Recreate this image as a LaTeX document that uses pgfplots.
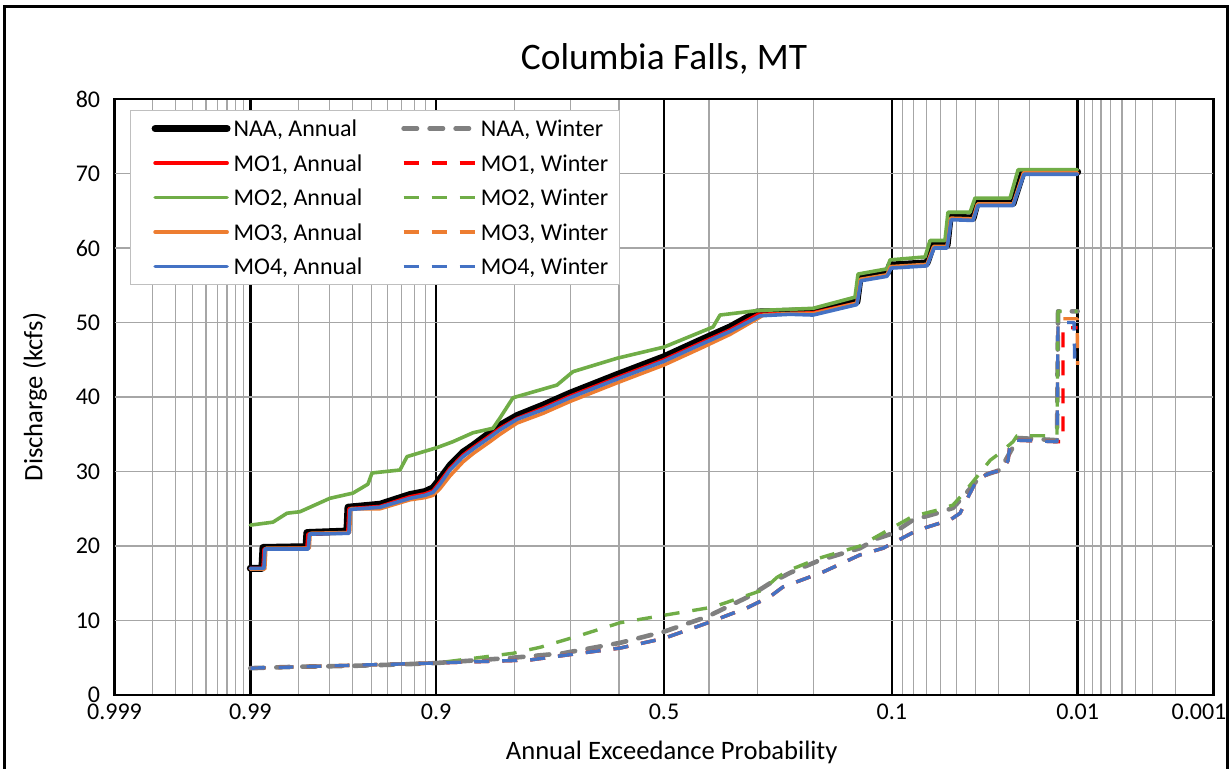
\documentclass[border=0pt]{standalone}
\usepackage{fontspec}
\setmainfont{Carlito}
\usepackage{pgfplots}
\pgfplotsset{compat=1.18}

\definecolor{xlRed}{HTML}{FF0000}
\definecolor{xlGreen}{HTML}{70AD47}
\definecolor{xlOrange}{HTML}{ED7D31}
\definecolor{xlBlue}{HTML}{4472C4}
\definecolor{xlGray}{HTML}{808080}
\definecolor{gridGray}{HTML}{A6A6A6}
\definecolor{legGray}{HTML}{BFBFBF}

% x axis is the standard normal quantile of the non-exceedance probability
\begin{document}
\begin{tikzpicture}
\useasboundingbox (0,0) rectangle (615.5pt,384.5pt);
\draw[line width=1.5pt] (2pt,-5pt) -- (2pt,381pt) -- (613.5pt,381pt) -- (613.5pt,-5pt);
\begin{axis}[
  at={(57.25pt,37pt)}, anchor=south west,
  scale only axis, width=549.5pt, height=298pt,
  xmin=-3.0902, xmax=3.0902, ymin=0, ymax=80,
  xtick={-3.0902,-2.3263,-1.2816,0,1.2816,2.3263,3.0902},
  xticklabels={0.999,0.99,0.9,0.5,0.1,0.01,\hspace*{-14.5pt}0.001},
  minor xtick={-2.8782,-2.7478,-2.6521,-2.5758,-2.5121,-2.4573,-2.4089,-2.3656,
    -2.0537,-1.8808,-1.7507,-1.6449,-1.5548,-1.4758,-1.4051,-1.3408,
    -0.8416,-0.5244,-0.2533,0.2533,0.5244,0.8416,
    1.3408,1.4051,1.4758,1.5548,1.6449,1.7507,1.8808,2.0537,
    2.3656,2.4089,2.4573,2.5121,2.5758,2.6521,2.7478,2.8782},
  ytick={0,10,20,30,40,50,60,70,80},
  grid=both,
  major x grid style={black, line width=1.3pt},
  minor x grid style={gridGray, line width=0.6pt},
  major y grid style={gridGray, line width=0.6pt},
  major tick length=0pt, minor tick length=0pt,
  axis line style={black, line width=1pt},
  tick label style={font=\fontsize{12}{14}\selectfont},
  /pgf/number format/assume math mode=true,
  xticklabel style={yshift=-4pt, inner sep=0.5pt},
  yticklabel style={xshift=-6pt, inner sep=1pt},
  title={Columbia Falls, MT},
  title style={at={(axis description cs:0.5,1.0671)}, anchor=center, yshift=-6pt,
    font=\fontsize{18.7}{22}\selectfont},
  xlabel={Annual Exceedance Probability},
  xlabel style={at={(axis description cs:0.507,-0.0956)}, anchor=center,
    font=\fontsize{13.3}{16}\selectfont},
  ylabel={Discharge (kcfs)},
  ylabel style={at={(axis description cs:-0.0723,0.5)}, anchor=center,
    font=\fontsize{13.3}{16}\selectfont},
  every axis plot/.append style={line join=round},
  annual/.style={line width=1.8pt, line cap=round},
  winter/.style={line width=1.7pt, line cap=butt, dash pattern=on 7.5pt off 6.5pt},
  legend image code/.code={\path (-6.5pt,0pt); \draw[#1] (0pt,0pt) -- (36pt,0pt);},
  legend columns=2,
  legend cell align=left,
  legend style={at={(0.0141,0.9815)}, anchor=north west, draw=legGray,
    line width=0.6pt, fill=white, font=\fontsize{12}{14}\selectfont,
    inner xsep=4pt, inner ysep=2pt,
    nodes={text height=9pt, text depth=1pt, inner ysep=2pt, inner xsep=1.5pt},
    row sep=3.25pt,
    /tikz/every even column/.append style={column sep=11.5pt}},
]

% NAA, Annual
\addplot[black, line width=3.5pt, line cap=round] coordinates {
(-2.3263,17.0) (-2.261,17.0) (-2.255,19.8) (-2.013,19.9) (-2.008,21.8)
(-1.783,22.0) (-1.777,25.2) (-1.597,25.6) (-1.429,26.9) (-1.344,27.3)
(-1.299,27.8) (-1.260,29.0) (-1.204,30.8) (-1.130,32.6) (-1.074,33.5)
(-0.979,35.2) (-0.922,36.2) (-0.827,37.5) (-0.681,38.9) (-0.529,40.5)
(-0.264,43.0) (0,45.4) (0.202,47.6) (0.371,49.4) (0.523,51.4) (0.709,51.5)
(0.838,51.6) (1.085,52.8) (1.102,56.0) (1.254,56.6) (1.271,57.7) (1.479,58.0)
(1.513,60.4) (1.592,60.4) (1.609,64.2) (1.738,64.0) (1.760,66.0) (1.963,66.0)
(2.019,70.2) (2.3263,70.2)};
\addlegendentry{NAA, Annual}

% NAA, Winter
\addplot[xlGray, line width=2.3pt, line cap=round, dash pattern=on 6.7pt off 6.3pt] coordinates {
(-2.3263,3.6) (-2.047,3.8) (-1.766,3.9) (-1.485,4.1) (-1.277,4.3) (-0.849,5.0)
(-0.568,5.6) (-0.247,7.0) (0,8.5) (0.242,10.5) (0.484,13.3) (0.596,15.0)
(0.709,16.4) (0.877,18.1) (1.102,19.7) (1.198,21.0) (1.288,21.7) (1.400,23.5)
(1.535,24.4) (1.625,25.1) (1.682,26.6) (1.777,29.3) (1.890,30.2) (1.963,33.3)
(1.985,34.5) (2.210,34.2) (2.216,51.5) (2.3263,51.5)};
\addlegendentry{NAA, Winter}

% MO1, Annual
\addplot[xlRed, annual] coordinates {
(-2.3263,17.0) (-2.255,17.0) (-2.249,19.6) (-2.008,19.7) (-2.002,21.6)
(-1.778,21.8) (-1.772,25.0) (-1.597,25.3) (-1.429,26.6) (-1.344,27.0)
(-1.299,27.4) (-1.260,28.6) (-1.204,30.4) (-1.130,32.2) (-1.074,33.2)
(-0.979,34.8) (-0.922,35.8) (-0.827,37.1) (-0.681,38.5) (-0.529,40.1)
(-0.264,42.6) (0,45.0) (0.202,47.2) (0.371,49.0) (0.530,51.1) (0.709,51.2)
(0.838,51.3) (1.085,52.6) (1.105,55.7) (1.254,56.3) (1.274,57.4) (1.479,57.7)
(1.516,60.1) (1.592,60.1) (1.612,63.9) (1.738,63.8) (1.763,65.8) (1.963,65.8)
(2.022,70.0) (2.3263,70.0)};
\addlegendentry{MO1, Annual}

% MO1, Winter
\addplot[xlRed, winter] coordinates {
(-2.3263,3.6) (-1.277,4.3) (-0.754,4.7) (-0.472,5.6) (-0.247,6.3) (0,7.6)
(0.259,9.8) (0.467,11.7) (0.596,13.2) (0.669,14.5) (0.894,16.5) (1.102,18.8)
(1.232,19.7) (1.288,20.4) (1.423,22.1) (1.609,23.5) (1.665,24.4) (1.721,27.1)
(1.760,28.9) (1.834,29.8) (1.907,30.2) (1.935,31.5) (1.946,33.8) (1.985,34.2)
(2.210,34.0) (2.244,34.0) (2.244,49.3) (2.3263,49.3)};
\addlegendentry{MO1, Winter}

% MO2, Annual
\addplot[xlGreen, annual] coordinates {
(-2.3263,22.8) (-2.199,23.2) (-2.120,24.4) (-2.047,24.6) (-1.879,26.4)
(-1.749,27.1) (-1.665,28.3) (-1.642,29.8) (-1.485,30.2) (-1.445,32.0)
(-1.277,33.2) (-1.187,34.0) (-1.074,35.2) (-0.962,35.8) (-0.922,37.2)
(-0.849,39.9) (-0.602,41.6) (-0.512,43.4) (-0.264,45.2) (0,46.7) (0.276,49.4)
(0.315,51.0) (0.523,51.6) (0.838,51.9) (1.074,53.4) (1.091,56.5) (1.254,57.2)
(1.271,58.4) (1.468,58.8) (1.496,61.0) (1.580,61.0) (1.597,64.8) (1.721,64.8)
(1.749,66.7) (1.946,66.7) (1.991,70.5) (2.3263,70.5)};
\addlegendentry{MO2, Annual}

% MO2, Winter
\addplot[xlGreen, winter] coordinates {
(-2.3263,3.6) (-1.277,4.3) (-0.849,5.6) (-0.697,6.4) (-0.472,8.0) (-0.247,9.7)
(0,10.7) (0.276,11.8) (0.557,14.1) (0.636,15.8) (0.709,16.8) (0.877,18.4)
(1.102,20.0) (1.198,21.3) (1.288,22.5) (1.400,24.0) (1.535,24.8) (1.625,25.5)
(1.682,27.0) (1.777,29.8) (1.834,31.5) (1.890,32.5) (1.963,34.0) (1.985,34.8)
(2.210,34.8) (2.216,51.5) (2.3263,51.5)};
\addlegendentry{MO2, Winter}

% MO3, Annual
\addplot[xlOrange, annual] coordinates {
(-2.3263,16.9) (-2.245,16.9) (-2.239,19.7) (-1.995,19.7) (-1.990,21.7)
(-1.768,21.8) (-1.762,25.0) (-1.597,25.0) (-1.429,26.2) (-1.344,26.5)
(-1.299,26.8) (-1.260,27.7) (-1.204,29.4) (-1.130,31.3) (-1.074,32.4)
(-0.979,34.0) (-0.922,35.0) (-0.827,36.5) (-0.681,37.8) (-0.529,39.4)
(-0.264,41.9) (0,44.3) (0.202,46.5) (0.371,48.4) (0.560,51.0) (0.709,51.2)
(0.838,51.2) (1.085,52.6) (1.105,55.8) (1.254,56.4) (1.274,57.5) (1.479,57.8)
(1.516,60.2) (1.592,60.2) (1.612,64.0) (1.738,63.9) (1.763,65.9) (1.963,65.9)
(2.022,70.1) (2.3263,70.1)};
\addlegendentry{MO3, Annual}

% MO3, Winter
\addplot[xlOrange, winter] coordinates {
(-2.3263,3.6) (-1.277,4.3) (-0.754,4.7) (-0.472,5.6) (-0.247,6.3) (0,7.6)
(0.259,9.8) (0.467,11.7) (0.596,13.2) (0.669,14.5) (0.894,16.5) (1.102,18.8)
(1.232,19.7) (1.288,20.4) (1.423,22.1) (1.609,23.5) (1.665,24.4) (1.721,27.1)
(1.760,28.9) (1.834,29.8) (1.907,30.2) (1.935,31.5) (1.946,33.8) (1.985,34.2)
(2.210,34.0) (2.216,50.5) (2.323,50.5) (2.3263,44.3)};
\addlegendentry{MO3, Winter}

% MO4, Annual
\addplot[xlBlue, annual] coordinates {
(-2.3263,17.0) (-2.250,17.0) (-2.244,19.6) (-2.000,19.6) (-1.994,21.6)
(-1.772,21.7) (-1.766,24.9) (-1.597,25.2) (-1.429,26.4) (-1.344,26.8)
(-1.299,27.2) (-1.260,28.3) (-1.204,30.2) (-1.130,32.0) (-1.074,33.0)
(-0.979,34.6) (-0.922,35.6) (-0.827,37.0) (-0.681,38.3) (-0.529,39.9)
(-0.264,42.4) (0,44.8) (0.202,47.0) (0.371,48.8) (0.540,50.9) (0.709,51.1)
(0.838,51.0) (1.085,52.4) (1.108,55.6) (1.254,56.2) (1.277,57.3) (1.479,57.6)
(1.519,60.0) (1.592,60.0) (1.615,63.8) (1.738,63.7) (1.766,65.7) (1.963,65.7)
(2.025,69.9) (2.3263,69.9)};
\addlegendentry{MO4, Annual}

% MO4, Winter
\addplot[xlBlue, winter] coordinates {
(-2.3263,3.6) (-1.277,4.3) (-0.754,4.7) (-0.472,5.6) (-0.247,6.3) (0,7.6)
(0.259,9.8) (0.467,11.7) (0.596,13.2) (0.669,14.5) (0.894,16.5) (1.102,18.8)
(1.232,19.7) (1.288,20.4) (1.423,22.1) (1.609,23.5) (1.665,24.4) (1.721,27.1)
(1.760,28.9) (1.834,29.8) (1.907,30.2) (1.935,31.5) (1.946,33.8) (1.985,34.2)
(2.210,34.0) (2.216,50.0) (2.306,50.0) (2.310,44.3)};
\addlegendentry{MO4, Winter}

\end{axis}
\end{tikzpicture}
\end{document}
